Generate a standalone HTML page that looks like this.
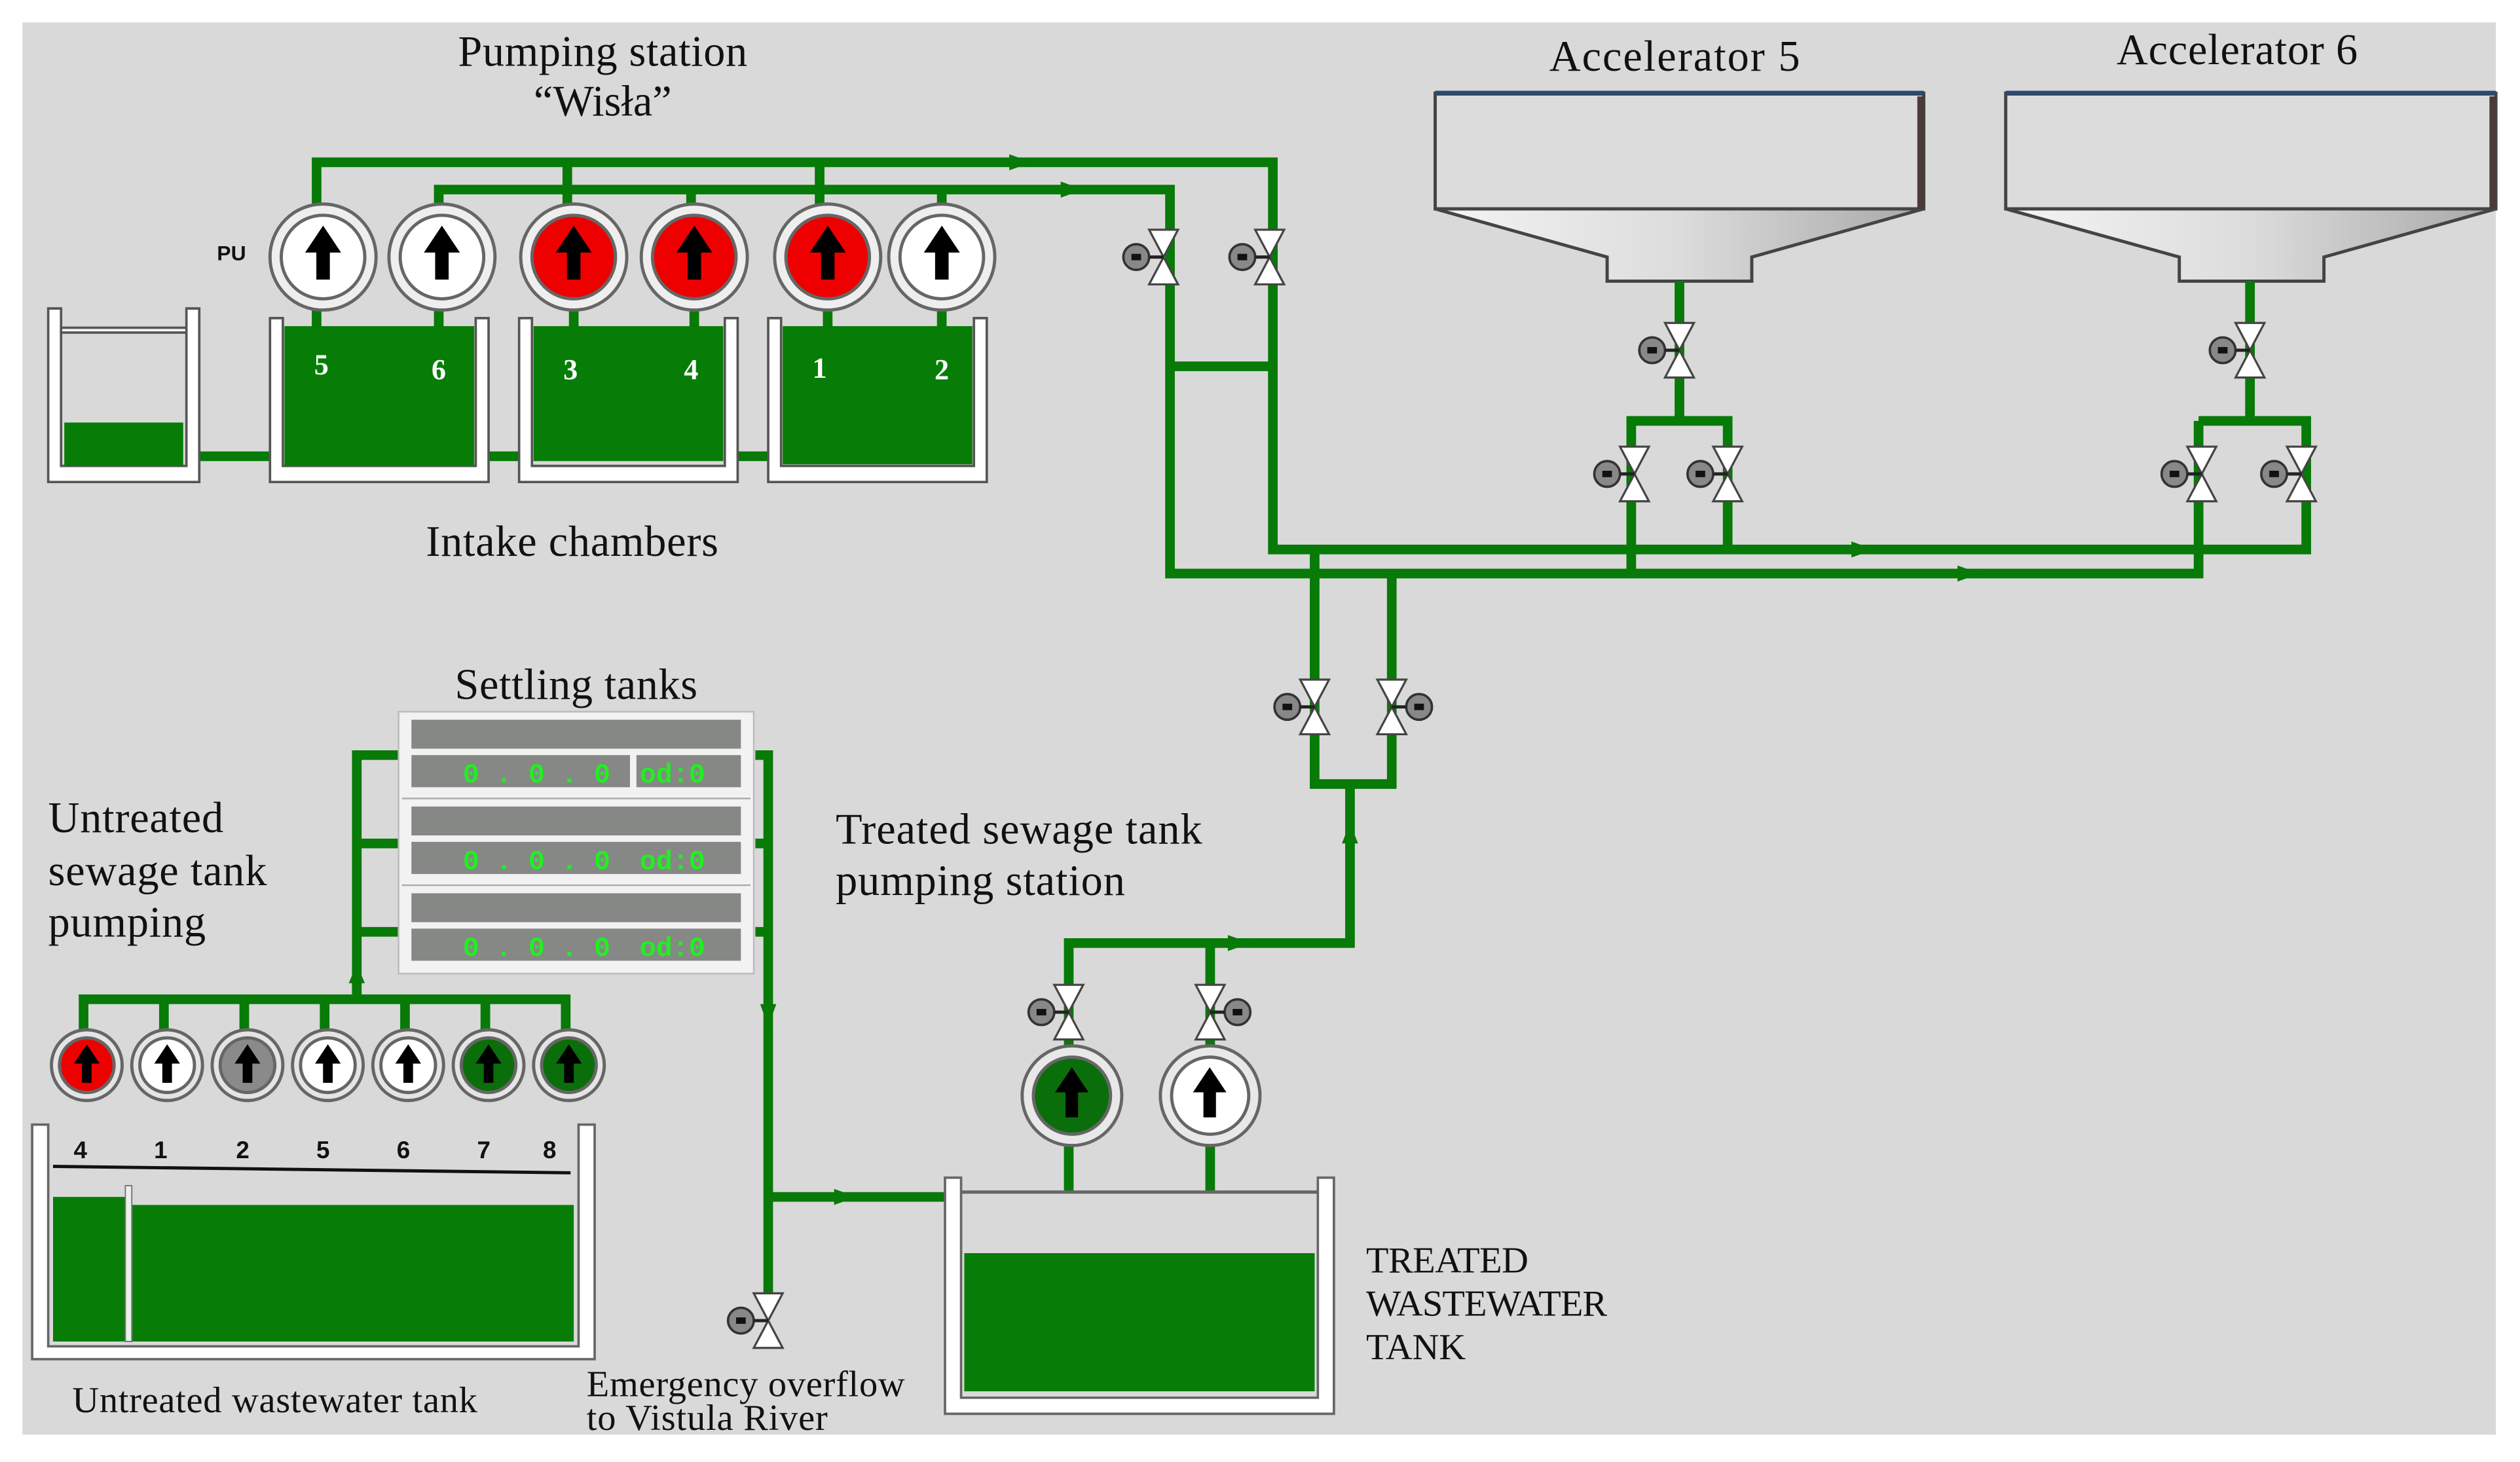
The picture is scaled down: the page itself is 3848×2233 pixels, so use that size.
<!DOCTYPE html>
<html><head><meta charset="utf-8"><style>
html,body{margin:0;padding:0;background:#fff}
svg{display:block}
text{font-family:"Liberation Serif",serif;fill:#111}
</style></head><body>
<svg width="3848" height="2233" viewBox="0 0 1568 910" preserveAspectRatio="none" xmlns="http://www.w3.org/2000/svg">
<defs>
<g id="valve">
 <path d="M-9,-17 L9,-17 L0,0 Z M-9,17 L9,17 L0,0 Z" fill="#fff" stroke="#444" stroke-width="1.3"/>
 <circle cx="-17" cy="0" r="8" fill="#888" stroke="#333" stroke-width="1.5"/>
 <rect x="-20" y="-2" width="6" height="4" fill="#111"/>
 <line x1="-9" y1="0" x2="0" y2="0" stroke="#222" stroke-width="2"/>
</g>
<g id="arrow"><path d="M-3,10 L-3,-2 L-8,-2 L0,-14 L8,-2 L3,-2 L3,10 Z" fill="#000"/></g>
<linearGradient id="fun" x1="0" x2="1"><stop offset="0" stop-color="#f4f4f4"/><stop offset="0.5" stop-color="#dcdcdc"/><stop offset="1" stop-color="#a8a8a8"/></linearGradient>
</defs>
<rect x="0" y="0" width="1568" height="910" fill="#fff"/>
<rect x="14" y="14" width="1539" height="879" fill="#d9d9d9"/>

<!-- titles -->
<g font-size="27">
<text x="375" y="41" text-anchor="middle" textLength="180">Pumping station</text>
<text x="375" y="72" text-anchor="middle">“Wisła”</text>
<text x="1042" y="44" text-anchor="middle" textLength="156">Accelerator  5</text>
<text x="1392" y="40" text-anchor="middle" textLength="150">Accelerator 6</text>
<text x="265" y="346" textLength="182">Intake chambers</text>
<text x="283" y="435" textLength="151">Settling tanks</text>
<text x="30" y="518" textLength="109">Untreated</text>
<text x="30" y="551" textLength="136">sewage tank</text>
<text x="30" y="583" textLength="98">pumping</text>
<text x="520" y="525" textLength="228">Treated sewage tank</text>
<text x="520" y="557" textLength="180">pumping station</text>
</g>
<g font-size="23">
<text x="850" y="792" textLength="101">TREATED</text>
<text x="850" y="819" textLength="150">WASTEWATER</text>
<text x="850" y="846" textLength="62">TANK</text>
<text x="45" y="879" textLength="252">Untreated wastewater tank</text>
<text x="365" y="869" textLength="198">Emergency overflow</text>
<text x="365" y="890" textLength="150">to Vistula River</text>
</g>
<text x="135" y="162" font-size="13" font-weight="bold" style="font-family:'Liberation Sans',sans-serif">PU</text>

<!-- accelerators -->
<g stroke="#444" stroke-width="2">
<path d="M893,58 L1197,58 L1197,130 L893,130 Z" fill="#dcdcdc"/>
<path d="M893,130 L1197,130 L1090,160 L1090,175 L1000,175 L1000,160 Z" fill="url(#fun)"/>
<path d="M1248,58 L1553,58 L1553,130 L1248,130 Z" fill="#dcdcdc"/>
<path d="M1248,130 L1553,130 L1446,160 L1446,175 L1356,175 L1356,160 Z" fill="url(#fun)"/>
</g>
<line x1="893" y1="58" x2="1197" y2="58" stroke="#2c4a6a" stroke-width="3"/>
<line x1="1248" y1="58" x2="1553" y2="58" stroke="#2c4a6a" stroke-width="3"/>
<line x1="1195" y1="60" x2="1195" y2="130" stroke="#4a3a3a" stroke-width="4"/>
<line x1="1551" y1="60" x2="1551" y2="130" stroke="#4a3a3a" stroke-width="4"/>

<!-- pipes -->
<g stroke="#077a07" stroke-width="6" fill="none" stroke-linejoin="miter">
<path d="M197,140 L197,101 L792,101 L792,342 L1435,342 L1435,262 L1368,262"/>
<path d="M273,140 L273,118 L728,118 L728,357 L1368,357 L1368,262"/>
<path d="M353,101 L353,140 M510,101 L510,140 M430,118 L430,140 M586,118 L586,140"/>
<path d="M197,180 L197,205 M273,180 L273,205 M357,180 L357,205 M432,180 L432,205 M515,180 L515,205 M586,180 L586,205"/>
<path d="M728,228 L792,228"/>
<path d="M1045,175 L1045,262 M1015,357 L1015,262 L1075,262 L1075,342"/>
<path d="M1400,175 L1400,262"/>
<path d="M818,342 L818,488 L866,488 L866,357 M840,488 L840,587 L665,587 L665,742 M753,587 L753,742"/>
<path d="M124,284 L168,284 M304,284 L323,284 M459,284 L478,284"/>
<path d="M250,470 L222,470 L222,622 M222,525 L250,525 M222,580 L250,580"/>
<path d="M52,645 L52,622 L352,622 L352,645 M102,622 L102,645 M152,622 L152,645 M202,622 L202,645 M252,622 L252,645 M302,622 L302,645"/>
<path d="M470,470 L478,470 L478,815 M470,525 L478,525 M470,580 L478,580 M478,745 L588,745"/>
</g>
<!-- flow arrows -->
<g fill="#077a07">
<path d="M628,96 L642,101 L628,106 Z"/><path d="M660,113 L674,118 L660,123 Z"/>
<path d="M1152,337 L1166,342 L1152,347 Z"/><path d="M1218,352 L1232,357 L1218,362 Z"/>
<path d="M764,582 L778,587 L764,592 Z"/><path d="M835,525 L840,512 L845,525 Z"/>
<path d="M519,740 L533,745 L519,750 Z"/><path d="M473,625 L478,639 L483,625 Z"/>
<path d="M217,612 L222,600 L227,612 Z"/>
</g>

<!-- valves -->
<use href="#valve" x="724" y="160"/><use href="#valve" x="790" y="160"/>
<use href="#valve" x="1045" y="218"/><use href="#valve" x="1400" y="218"/>
<use href="#valve" x="1017" y="295"/><use href="#valve" x="1075" y="295"/>
<use href="#valve" x="1370" y="295"/><use href="#valve" x="1432" y="295"/>
<use href="#valve" x="818" y="440"/>
<g transform="translate(866,440) scale(-1,1)"><use href="#valve"/></g>
<use href="#valve" x="665" y="630"/>
<g transform="translate(753,630) scale(-1,1)"><use href="#valve"/></g>
<use href="#valve" x="478" y="822"/>

<!-- intake chambers -->
<g stroke="#555" stroke-width="1.5">
<path d="M30,192 L38,192 L38,290 L116,290 L116,192 L124,192 L124,300 L30,300 Z" fill="#fff"/>
<rect x="38" y="204" width="78" height="3" fill="#fff"/>
<path d="M168,198 L176,198 L176,290 L296,290 L296,198 L304,198 L304,300 L168,300 Z" fill="#fff"/>
<path d="M323,198 L331,198 L331,290 L451,290 L451,198 L459,198 L459,300 L323,300 Z" fill="#fff"/>
<path d="M478,198 L486,198 L486,290 L606,290 L606,198 L614,198 L614,300 L478,300 Z" fill="#fff"/>
</g>
<rect x="40" y="263" width="74" height="27" fill="#077d07"/>
<rect x="177" y="203" width="118" height="87" fill="#077d07"/>
<rect x="332" y="203" width="118" height="84" fill="#077d07"/>
<rect x="487" y="203" width="118" height="86" fill="#077d07"/>
<g fill="#fff" font-size="18" font-weight="bold" text-anchor="middle">
<text x="200" y="233" style="fill:#fff">5</text><text x="273" y="236" style="fill:#fff">6</text>
<text x="355" y="236" style="fill:#fff">3</text><text x="430" y="236" style="fill:#fff">4</text>
<text x="510" y="235" style="fill:#fff">1</text><text x="586" y="236" style="fill:#fff">2</text>
</g>

<!-- top pumps -->
<g stroke="#666" stroke-width="2">
<circle cx="201" cy="160" r="33" fill="#eee"/><circle cx="201" cy="160" r="26" fill="#fff"/>
<circle cx="275" cy="160" r="33" fill="#eee"/><circle cx="275" cy="160" r="26" fill="#fff"/>
<circle cx="357" cy="160" r="33" fill="#eee"/><circle cx="357" cy="160" r="26" fill="#ee0000"/>
<circle cx="432" cy="160" r="33" fill="#eee"/><circle cx="432" cy="160" r="26" fill="#ee0000"/>
<circle cx="515" cy="160" r="33" fill="#eee"/><circle cx="515" cy="160" r="26" fill="#ee0000"/>
<circle cx="586" cy="160" r="33" fill="#eee"/><circle cx="586" cy="160" r="26" fill="#fff"/>
</g>
<g transform="scale(1.4)">
<use href="#arrow" x="143.6" y="114.3"/><use href="#arrow" x="196.4" y="114.3"/><use href="#arrow" x="255" y="114.3"/>
<use href="#arrow" x="308.6" y="114.3"/><use href="#arrow" x="367.9" y="114.3"/><use href="#arrow" x="418.6" y="114.3"/>
</g>

<!-- settling tanks -->
<g>
<rect x="248" y="443" width="221" height="163" fill="#f2f2f2" stroke="#bbb"/>
<g fill="#858885">
<rect x="256" y="448" width="205" height="18"/><rect x="256" y="470" width="136" height="20"/><rect x="396" y="470" width="65" height="20"/>
<rect x="256" y="502" width="205" height="18"/><rect x="256" y="524" width="205" height="20"/>
<rect x="256" y="556" width="205" height="18"/><rect x="256" y="578" width="205" height="20"/>
</g>
<line x1="250" y1="497" x2="467" y2="497" stroke="#aaa"/><line x1="250" y1="551" x2="467" y2="551" stroke="#aaa"/>
<g font-size="17" font-weight="bold">
<text x="288" y="487" style="fill:#22ee22;font-family:'Liberation Mono',monospace">0 . 0 . 0</text><text x="398" y="487" style="fill:#22ee22;font-family:'Liberation Mono',monospace">od:0</text>
<text x="288" y="541" style="fill:#22ee22;font-family:'Liberation Mono',monospace">0 . 0 . 0</text><text x="398" y="541" style="fill:#22ee22;font-family:'Liberation Mono',monospace">od:0</text>
<text x="288" y="595" style="fill:#22ee22;font-family:'Liberation Mono',monospace">0 . 0 . 0</text><text x="398" y="595" style="fill:#22ee22;font-family:'Liberation Mono',monospace">od:0</text>
</g>
</g>

<!-- lower pumps -->
<g stroke="#666" stroke-width="2">
<circle cx="54" cy="663" r="22" fill="#e4e4e4"/><circle cx="54" cy="663" r="17" fill="#ee0000"/>
<circle cx="104" cy="663" r="22" fill="#e4e4e4"/><circle cx="104" cy="663" r="17" fill="#fff"/>
<circle cx="154" cy="663" r="22" fill="#e4e4e4"/><circle cx="154" cy="663" r="17" fill="#8a8a8a"/>
<circle cx="204" cy="663" r="22" fill="#e4e4e4"/><circle cx="204" cy="663" r="17" fill="#fff"/>
<circle cx="254" cy="663" r="22" fill="#e4e4e4"/><circle cx="254" cy="663" r="17" fill="#fff"/>
<circle cx="304" cy="663" r="22" fill="#e4e4e4"/><circle cx="304" cy="663" r="17" fill="#0a6f0a"/>
<circle cx="354" cy="663" r="22" fill="#e4e4e4"/><circle cx="354" cy="663" r="17" fill="#0a6f0a"/>
</g>
<g><use href="#arrow" x="54" y="664"/><use href="#arrow" x="104" y="664"/><use href="#arrow" x="154" y="664"/><use href="#arrow" x="204" y="664"/><use href="#arrow" x="254" y="664"/><use href="#arrow" x="304" y="664"/><use href="#arrow" x="354" y="664"/></g>

<!-- untreated tank -->
<path d="M20,700 L30,700 L30,838 L360,838 L360,700 L370,700 L370,846 L20,846 Z" fill="#fff" stroke="#666" stroke-width="1.5"/>
<g font-size="15" font-weight="bold" text-anchor="middle">
<text x="50" y="721" style="font-family:'Liberation Sans',sans-serif">4</text><text x="100" y="721" style="font-family:'Liberation Sans',sans-serif">1</text><text x="151" y="721" style="font-family:'Liberation Sans',sans-serif">2</text><text x="201" y="721" style="font-family:'Liberation Sans',sans-serif">5</text><text x="251" y="721" style="font-family:'Liberation Sans',sans-serif">6</text><text x="301" y="721" style="font-family:'Liberation Sans',sans-serif">7</text><text x="342" y="721" style="font-family:'Liberation Sans',sans-serif">8</text>
</g>
<line x1="33" y1="726" x2="355" y2="730" stroke="#111" stroke-width="2"/>
<rect x="33" y="745" width="45" height="90" fill="#077d07"/>
<rect x="82" y="750" width="275" height="85" fill="#077d07"/>
<rect x="78" y="738" width="4" height="97" fill="#eee" stroke="#777" stroke-width="0.8"/>

<!-- treated tank pumps -->
<g stroke="#666" stroke-width="2">
<circle cx="667" cy="682" r="31" fill="#e8e8e8"/><circle cx="667" cy="682" r="24" fill="#0a6f0a"/>
<circle cx="753" cy="682" r="31" fill="#e8e8e8"/><circle cx="753" cy="682" r="24" fill="#fff"/>
</g>
<g transform="scale(1.3)"><use href="#arrow" x="513" y="525"/><use href="#arrow" x="579" y="525"/></g>

<!-- treated tank -->
<path d="M588,733 L598,733 L598,870 L820,870 L820,733 L830,733 L830,880 L588,880 Z" fill="#fff" stroke="#666" stroke-width="1.5"/>
<line x1="598" y1="742" x2="820" y2="742" stroke="#666" stroke-width="2"/>
<rect x="600" y="780" width="218" height="86" fill="#077d07"/>
</svg>
</body></html>
